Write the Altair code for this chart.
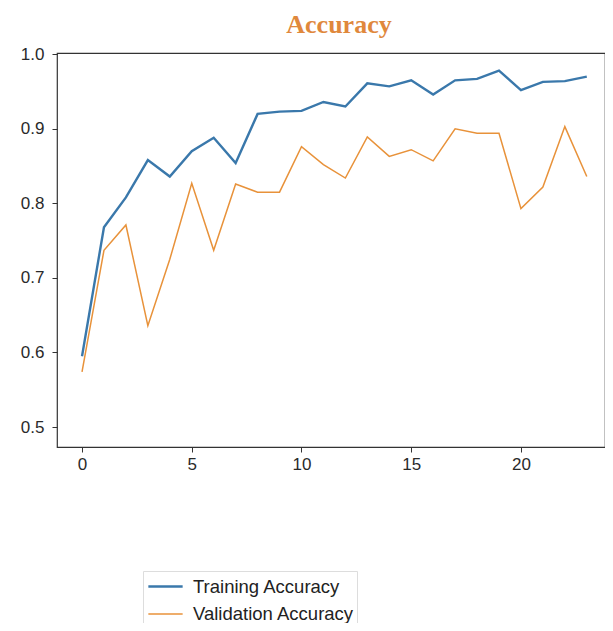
import altair as alt
import pandas as pd

epochs = list(range(24))
training = [0.595, 0.768, 0.808, 0.858, 0.836, 0.870, 0.888, 0.854, 0.920, 0.923,
            0.924, 0.936, 0.930, 0.961, 0.957, 0.965, 0.946, 0.965, 0.967, 0.978,
            0.952, 0.963, 0.964, 0.970]
validation = [0.574, 0.737, 0.771, 0.636, 0.725, 0.827, 0.737, 0.826, 0.815, 0.815,
              0.876, 0.852, 0.834, 0.889, 0.863, 0.872, 0.857, 0.900, 0.894, 0.894,
              0.793, 0.822, 0.903, 0.836]
series_names = ["Training Accuracy", "Validation Accuracy"]
x_ticks = [0, 5, 10, 15, 20]
y_ticks = [0.5, 0.6, 0.7, 0.8, 0.9, 1.0]

rows = []
for name, vals in zip(series_names, [training, validation]):
    for e, v in zip(epochs, vals):
        rows.append({"epoch": e, "acc": v, "series": name})
df = pd.DataFrame(rows)

FONT = "Liberation Sans"

chart = alt.Chart(df).mark_line(strokeJoin="miter").encode(
    x=alt.X("epoch:Q",
            scale=alt.Scale(domain=[-1.14, 23.83], nice=False, zero=False),
            axis=alt.Axis(values=x_ticks, format="d", title=None, grid=False,
                          domain=False, tickSize=5, tickColor="#333",
                          labelPadding=4, labelFontSize=17, labelFont=FONT,
                          labelColor="#2a2a2a")),
    y=alt.Y("acc:Q",
            scale=alt.Scale(domain=[0.4732, 1.0017], nice=False, zero=False),
            axis=alt.Axis(values=y_ticks, format=".1f", title=None, grid=False,
                          domain=False, tickSize=5, tickColor="#333",
                          labelPadding=8, labelFontSize=17, labelFont=FONT,
                          labelColor="#2a2a2a")),
    color=alt.Color("series:N",
                    scale=alt.Scale(domain=series_names, range=["#3a78ab", "#e8923a"]),
                    legend=alt.Legend(title=None, orient="none", legendX=86, legendY=518,
                                      symbolType="M-1.4,0H1.4", symbolSize=600,
                                      symbolStrokeWidth=2.4, symbolOffset=7,
                                      labelOffset=14, labelFontSize=18.5, labelFont=FONT,
                                      labelColor="#222", labelLimit=400, padding=2,
                                      rowPadding=5,
                                      strokeColor="#dddddd", fillColor="white")),
    strokeWidth=alt.StrokeWidth("series:N",
                                scale=alt.Scale(domain=series_names, range=[2.4, 1.5]),
                                legend=None),
).properties(
    width=548,
    height=394,
    title=alt.TitleParams("Accuracy", font="Liberation Serif", fontSize=26,
                          fontWeight="bold", color="#e0883c", anchor="middle",
                          baseline="bottom", offset=0, dy=19, dx=8),
    autosize=alt.AutoSizeParams(type="none"),
    padding={"left": 49, "top": 45, "right": 0, "bottom": 176},
).configure_view(stroke="#333", strokeWidth=1.2)

chart.save("out.html", embed_options={"renderer": "svg", "actions": False})
